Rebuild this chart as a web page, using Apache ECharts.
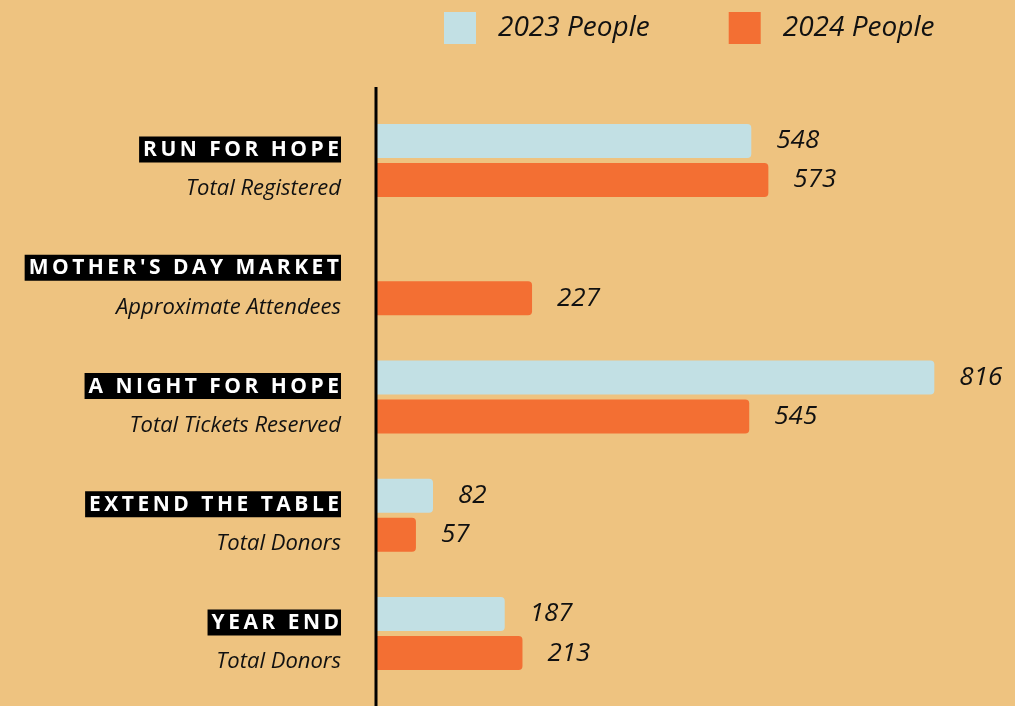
<!DOCTYPE html>
<html>
<head>
<meta charset="utf-8">
<script src="https://cdn.jsdelivr.net/npm/echarts@6/dist/echarts.min.js"></script>
<style>
  html, body { margin: 0; padding: 0; background: #EEC380; }
  #chart { width: 1015px; height: 706px; }
</style>
</head>
<body>
<div id="chart"></div>
<script>
var events = ['RUN FOR HOPE', "MOTHER'S DAY MARKET", 'A NIGHT FOR HOPE', 'EXTEND THE TABLE', 'YEAR END']
var subtitles = ['Total Registered', 'Approximate Attendees', 'Total Tickets Reserved', 'Total Donors', 'Total Donors']
var people2023 = [548, null, 816, 82, 187]
var people2024 = [573, 227, 545, 57, 213]

var FONT = '"Open Sans"'

// spread the letters out a bit, like the tracked caps in the original
function spaced(s) {
  return s.split('').join('\u2009')
}

var chart = echarts.init(document.getElementById('chart'))

chart.setOption({
  backgroundColor: '#EEC380',
  textStyle: { fontFamily: FONT },
  legend: {
    left: 439,
    top: 7,
    itemWidth: 32,
    itemHeight: 32,
    itemGap: 79,
    icon: 'rect',
    itemStyle: { borderRadius: 3 },
    textStyle: {
      fontFamily: FONT,
      fontStyle: 'italic',
      fontSize: 28,
      color: '#111',
      padding: [0, 0, 0, 17]
    },
    data: ['2023 People', '2024 People']
  },
  grid: {
    left: 377,
    top: 101.4,
    height: 591.3,
    width: 683,
    outerBoundsMode: 'none'
  },
  xAxis: {
    type: 'value',
    min: 0,
    max: 1000,
    show: false
  },
  yAxis: {
    type: 'category',
    inverse: true,
    data: events,
    axisLine: { show: false },
    axisTick: { show: false },
    splitLine: { show: false },
    axisLabel: {
      margin: 36,
      align: 'right',
      padding: [30, 0, 0, 0],
      formatter: function (val, idx) {
        return '{t|' + spaced(val) + '}\n{s|' + subtitles[idx] + '}'
      },
      rich: {
        t: {
          fontFamily: FONT,
          fontWeight: 'bold',
          fontSize: 21,
          lineHeight: 27,
          color: '#fff',
          backgroundColor: '#000',
          padding: [3, 2, 2, 4],
          align: 'right'
        },
        s: {
          fontFamily: FONT,
          fontStyle: 'italic',
          fontSize: 22,
          lineHeight: 52,
          color: '#111',
          align: 'right'
        }
      }
    }
  },
  graphic: [{
    type: 'line',
    shape: { x1: 376, y1: 87, x2: 376, y2: 706 },
    style: { stroke: '#000', lineWidth: 3 },
    z: 10
  }],
  series: [
    {
      name: '2023 People',
      type: 'bar',
      data: people2023,
      barWidth: 34,
      barGap: '15%',
      itemStyle: { color: '#C2E0E4', borderRadius: [0, 4, 4, 0] },
      label: {
        show: true,
        position: 'right',
        distance: 25,
        fontFamily: FONT,
        fontStyle: 'italic',
        fontSize: 26,
        color: '#111'
      }
    },
    {
      name: '2024 People',
      type: 'bar',
      data: people2024,
      barWidth: 34,
      itemStyle: { color: '#F36F33', borderRadius: [0, 4, 4, 0] },
      label: {
        show: true,
        position: 'right',
        distance: 25,
        fontFamily: FONT,
        fontStyle: 'italic',
        fontSize: 26,
        color: '#111'
      }
    }
  ]
})
</script>
</body>
</html>
